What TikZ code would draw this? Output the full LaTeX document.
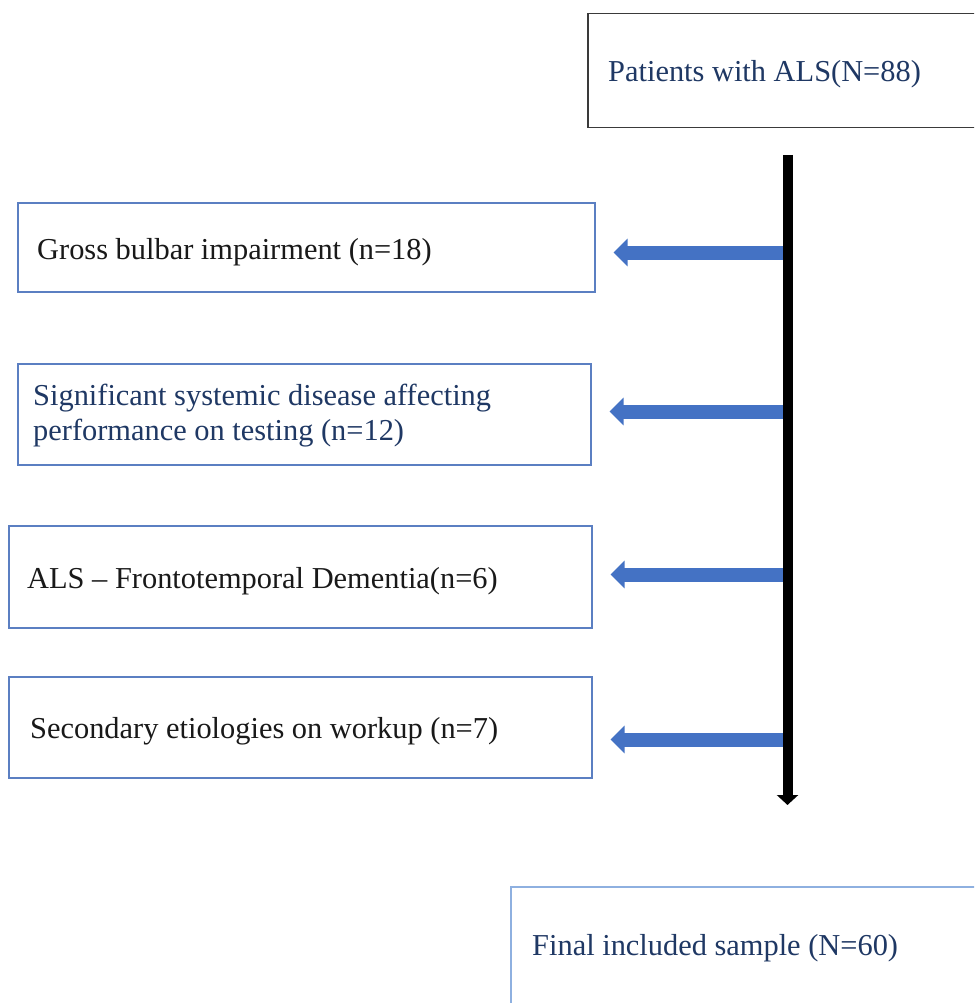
\documentclass[tikz,border=0pt]{standalone}
\usepackage{fontspec}
\setmainfont{Liberation Serif}
\usetikzlibrary{arrows.meta}
\definecolor{navy}{HTML}{1F3864}
\definecolor{boxblue}{HTML}{5B7FC2}
\definecolor{lightblue}{HTML}{8EB0E0}
\definecolor{arrowblue}{HTML}{4472C4}
\definecolor{darkline}{HTML}{3A3A3A}
\tikzset{
  box/.style={draw=boxblue, line width=1.5pt, anchor=north west, inner sep=0pt},
  label text/.style={anchor=base west, inner sep=0pt, font=\fontsize{30.4}{35}\selectfont, align=left},
  exclarrow/.style={draw=arrowblue, line width=14pt, -{Triangle[width=27pt,length=14pt]}, shorten >=18pt},
  mainline/.style={draw=black, line width=10pt, -{Triangle[width=21pt,length=10pt]}},
}
\begin{document}
\begin{tikzpicture}[x=1pt,y=-1pt]
\clip (0,0) rectangle (974,1003);
\fill[white] (0,0) rectangle (974,1003);

% top box
\node[box, draw=darkline, minimum width=420pt, minimum height=114pt] (top) at (587,13) {};
\node[label text, text=navy] (ttop) at (608,82) {Patients with ALS(N=88)};

% exclusion boxes
\node[box, minimum width=577pt, minimum height=89pt] (b1) at (17,202) {};
\node[label text, text=black!90] (t1) at (37,259) {Gross bulbar impairment (n=18)};

\node[box, minimum width=573pt, minimum height=101pt] (b2) at (17,363) {};
\node[label text, text=navy] (t2) at (33,440) {Significant systemic disease affecting\\performance on testing (n=12)};

\node[box, minimum width=583pt, minimum height=102pt] (b3) at (8,525) {};
\node[label text, text=black!90] (t3) at (27,588) {ALS -- Frontotemporal Dementia(n=6)};

\node[box, minimum width=583pt, minimum height=101pt] (b4) at (8,676) {};
\node[label text, text=black!90] (t4) at (30,738) {Secondary etiologies on workup (n=7)};

% final box
\node[box, draw=lightblue, minimum width=480pt, minimum height=130pt] (fin) at (510,886) {};
\node[label text, text=navy] (tfin) at (532,955) {Final included sample (N=60)};

% main vertical line
\coordinate (ltop) at (787.5,155);
\coordinate (lbot) at (787.5,805);
\draw[mainline] (ltop) -- (lbot);

% exclusion arrows
\coordinate (a1) at (783,252.5);
\coordinate (a2) at (783,411.5);
\coordinate (a3) at (783,574.5);
\coordinate (a4) at (783,739.5);
\draw[exclarrow] (a1) -- (a1 -| b1.east);
\draw[exclarrow] (a2) -- (a2 -| b2.east);
\draw[exclarrow] (a3) -- (a3 -| b3.east);
\draw[exclarrow] (a4) -- (a4 -| b4.east);
\end{tikzpicture}
\end{document}
